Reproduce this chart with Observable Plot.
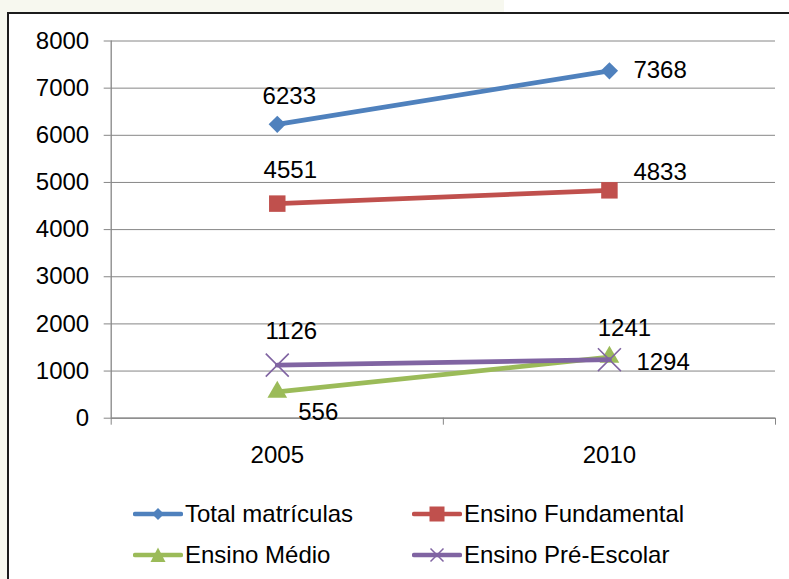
<!DOCTYPE html>
<html>
<head>
<meta charset="utf-8">
<script src="https://cdn.jsdelivr.net/npm/d3@7"></script>
<script src="https://cdn.jsdelivr.net/npm/@observablehq/plot@0.6"></script>
<style>
  html, body { margin: 0; padding: 0; background: #ffffff; width: 789px; height: 579px; overflow: hidden; }
  body { position: relative; font-family: "Liberation Sans", Arial, sans-serif; }
  #bgTop { position: absolute; left: 0; top: 0; width: 504px; height: 13px; background: #f7f8ef; }
  #bgLeft { position: absolute; left: 0; top: 0; width: 8px; height: 579px; background: #f7f8ef; }
  #frame { position: absolute; left: 7px; top: 12px; width: 900px; height: 700px; border: 2px solid #1c1c1c; background: #ffffff; }
  #chart { position: absolute; left: 0; top: 0; }
  #legend { position: absolute; left: 133px; top: 493px; display: grid; grid-template-columns: 279px auto; grid-auto-rows: 41px; font-size: 24px; color: #000; }
  .item { display: flex; align-items: center; }
  .item svg { display: block; }
  .item span { margin-left: 2px; white-space: nowrap; }
</style>
</head>
<body>
<div id="bgTop"></div>
<div id="bgLeft"></div>
<div id="frame"></div>
<div id="chart"></div>
<div id="legend"></div>
<script>
// ---- data ----
const years = [2005, 2010];
const seriesNames = ["Total matrículas", "Ensino Fundamental", "Ensino Médio", "Ensino Pré-Escolar"];
const totalMatriculas = [6233, 7368];
const ensinoFundamental = [4551, 4833];
const ensinoMedio = [556, 1294];
const ensinoPreEscolar = [1126, 1241];
const yTicks = [0, 1000, 2000, 3000, 4000, 5000, 6000, 7000, 8000];

// ---- styles ----
const colors = ["#4f81bd", "#c0504d", "#9bbb59", "#8064a2"];
const seriesValues = [totalMatriculas, ensinoFundamental, ensinoMedio, ensinoPreEscolar];
const rows = seriesNames.flatMap((s, i) => years.map((yr, j) => ({series: s, year: yr, value: seriesValues[i][j]})));

const step = years[1] - years[0];
const xDomain = [years[0] - step / 2, years[years.length - 1] + step / 2];
const boundaries = [xDomain[0], (years[0] + years[1]) / 2, xDomain[1]];

const symbolSpec = [
  {symbol: "diamond2", r: 7.8, fill: true},
  {symbol: "square", r: 9.3, fill: true},
  {symbol: "triangle", r: 7.3, fill: true},
  {symbol: "times", r: 10.5, fill: false}
];

// label placement (offset from point)
function labelPos(series, year) {
  const first = year === years[0];
  switch (series) {
    case seriesNames[0]: return first ? {dx: 12, dy: -28, a: "middle"} : {dx: 24, dy: 0, a: "start"};
    case seriesNames[1]: return first ? {dx: 13, dy: -33, a: "middle"} : {dx: 24, dy: -18, a: "start"};
    case seriesNames[2]: return first ? {dx: 41, dy: 20, a: "middle"} : {dx: 27, dy: 5, a: "start"};
    default: return first ? {dx: 14, dy: -34, a: "middle"} : {dx: 15, dy: -31, a: "middle"};
  }
}

const gridColor = "#868686";
const fontSize = 24;

const marks = [
  Plot.gridY(yTicks, {stroke: gridColor, strokeOpacity: 1, strokeWidth: 1}),
  Plot.ruleX([xDomain[0]], {y1: 0, y2: yTicks[yTicks.length - 1], stroke: gridColor, strokeWidth: 1.3}),
  Plot.ruleY([0], {stroke: gridColor, strokeWidth: 1.3}),
  Plot.axisY(yTicks, {tickSize: 7, tickPadding: 15, stroke: gridColor, tickFormat: d => String(d), fontSize, fill: "#000", label: null}),
  Plot.axisX(boundaries, {tickSize: 7, tickFormat: () => "", stroke: gridColor, label: null}),
  Plot.axisX(years, {tickSize: 0, tickPadding: 28, tickFormat: d => String(d), fontSize, fill: "#000", label: null})
];

seriesNames.forEach((s, i) => {
  const sub = rows.filter(d => d.series === s);
  const sp = symbolSpec[i];
  marks.push(Plot.line(sub, {x: "year", y: "value", stroke: colors[i], strokeWidth: 4.8, strokeLinecap: "round"}));
  marks.push(Plot.dot(sub, {
    x: "year", y: "value", symbol: () => sp.symbol, r: sp.r,
    fill: sp.fill ? colors[i] : "none", stroke: colors[i], strokeWidth: sp.fill ? 0 : 1.6
  }));
});

rows.forEach(d => {
  const p = labelPos(d.series, d.year);
  marks.push(Plot.text([d], {x: "year", y: "value", text: r => String(r.value), dx: p.dx, dy: p.dy, textAnchor: p.a, fontSize, fill: "#000"}));
});

const chart = Plot.plot({
  width: 789,
  height: 470,
  marginLeft: 110.7,
  marginRight: 14,
  marginTop: 40.5,
  marginBottom: 52.3,
  style: {background: "transparent", fontFamily: "'Liberation Sans', Arial, sans-serif", fontSize: fontSize + "px", color: "#000"},
  x: {type: "linear", domain: xDomain, axis: null},
  y: {domain: [0, yTicks[yTicks.length - 1]], axis: null},
  symbol: {type: "identity"},
  marks
});
document.getElementById("chart").appendChild(chart);

// ---- legend ----
const legendShapes = [
  c => `<path d="M25,5 L31,11 L25,17 L19,11 Z" fill="${c}"/>`,
  c => `<rect x="17.5" y="3.5" width="15" height="15" fill="${c}"/>`,
  c => `<path d="M25,3.5 L32.5,18 L17.5,18 Z" fill="${c}"/>`,
  c => `<path d="M18.5,4.5 L31.5,17.5 M31.5,4.5 L18.5,17.5" stroke="${c}" stroke-width="1.5" fill="none"/>`
];
const legend = document.getElementById("legend");
seriesNames.forEach((s, i) => {
  const item = document.createElement("div");
  item.className = "item";
  item.innerHTML = `<svg width="50" height="22" viewBox="0 0 50 22"><line x1="2" y1="11" x2="48" y2="11" stroke="${colors[i]}" stroke-width="4.5" stroke-linecap="round"/>${legendShapes[i](colors[i])}</svg><span>${s}</span>`;
  legend.appendChild(item);
});
</script>
</body>
</html>
